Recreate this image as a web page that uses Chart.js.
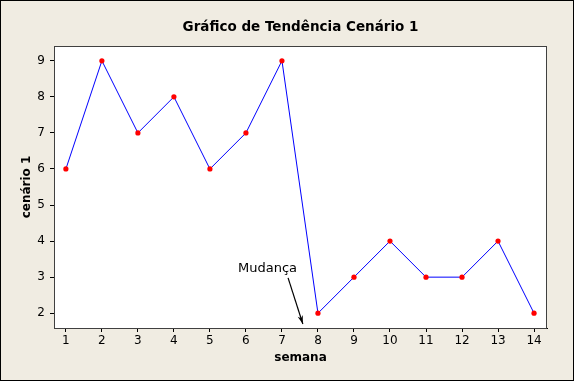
<!DOCTYPE html>
<html lang="pt">
<head>
    <meta charset="UTF-8">
    <title>Gráfico de Tendência Cenário 1</title>
    <script src="https://cdn.jsdelivr.net/npm/chart.js"></script>
    <style>
        body { margin: 0; background: #fff; }
        #wrap { width: 574px; height: 381px; }
    </style>
</head>
<body>
    <div id="wrap"><canvas id="trendChart" width="574" height="381"></canvas></div>

    <script>
        // data
        const semanas = [1, 2, 3, 4, 5, 6, 7, 8, 9, 10, 11, 12, 13, 14];
        const cenario1 = [6, 9, 7, 8, 6, 7, 9, 2, 3, 4, 3, 3, 4, 2];
        const yTicks = [2, 3, 4, 5, 6, 7, 8, 9];
        const titulo = 'Gráfico de Tendência Cenário 1';
        const nota = { texto: 'Mudança', x: 6.6, y: 3.25, de: [7.17, 2.98], ate: [7.58, 1.7] };

        const fonte = 'DejaVu Sans';

        // background, frame, title and annotation
        const extras = {
            id: 'extras',
            beforeDraw(chart) {
                const c = chart.ctx;
                c.save();
                c.fillStyle = '#f0ece2';
                c.fillRect(0, 0, chart.width, chart.height);
                const a = chart.chartArea;
                c.fillStyle = '#fff';
                c.fillRect(a.left, a.top, a.right - a.left, a.bottom - a.top);
                c.restore();
            },
            afterDraw(chart) {
                const c = chart.ctx;
                const a = chart.chartArea;
                const xs = chart.scales.x, ys = chart.scales.y;
                c.save();
                c.strokeStyle = '#000';
                c.lineWidth = 1;
                c.strokeRect(0.5, 0.5, chart.width - 1, chart.height - 1);
                c.strokeStyle = '#404040';
                c.strokeRect(a.left + 0.5, a.top + 0.5, a.right - a.left - 1, a.bottom - a.top);

                c.fillStyle = '#000';
                c.font = 'bold 13.5px "' + fonte + '"';
                c.textAlign = 'center';
                c.textBaseline = 'middle';
                c.fillText(titulo, (a.left + a.right) / 2, 27);

                // annotation
                c.font = '13px "' + fonte + '"';
                c.fillText(nota.texto, xs.getPixelForValue(nota.x), ys.getPixelForValue(nota.y));
                const x1 = xs.getPixelForValue(nota.de[0]), y1 = ys.getPixelForValue(nota.de[1]);
                const x2 = xs.getPixelForValue(nota.ate[0]), y2 = ys.getPixelForValue(nota.ate[1]);
                c.strokeStyle = '#000';
                c.lineWidth = 1.2;
                c.beginPath();
                c.moveTo(x1, y1);
                c.lineTo(x2, y2);
                c.stroke();
                const ang = Math.atan2(y2 - y1, x2 - x1);
                c.beginPath();
                c.moveTo(x2, y2);
                c.lineTo(x2 - 9 * Math.cos(ang - 0.3), y2 - 9 * Math.sin(ang - 0.3));
                c.lineTo(x2 - 6 * Math.cos(ang), y2 - 6 * Math.sin(ang));
                c.lineTo(x2 - 9 * Math.cos(ang + 0.3), y2 - 9 * Math.sin(ang + 0.3));
                c.closePath();
                c.fill();
                c.restore();
            }
        };

        const ctx = document.getElementById('trendChart').getContext('2d');
        const trendChart = new Chart(ctx, {
            type: 'line',
            data: {
                datasets: [{
                    data: semanas.map((s, i) => ({ x: s, y: cenario1[i] })),
                    borderColor: '#0000ff',
                    borderWidth: 1,
                    pointBackgroundColor: '#ff0000',
                    pointBorderWidth: 0,
                    pointRadius: 2.6,
                    tension: 0
                }]
            },
            options: {
                responsive: false,
                animation: false,
                layout: { padding: { left: 0, right: 27, top: 46, bottom: 0 } },
                plugins: { legend: { display: false }, tooltip: { enabled: false } },
                scales: {
                    x: {
                        type: 'linear',
                        min: 0.67,
                        max: 14.36,
                        afterBuildTicks: s => { s.ticks = semanas.map(v => ({ value: v })); },
                        afterFit: s => { s.height = 53; },
                        grid: { drawOnChartArea: false, tickLength: 4, tickColor: '#000' },
                        border: { color: '#000' },
                        ticks: { color: '#000', padding: 2, font: { family: fonte, size: 12 } },
                        title: { display: true, text: 'semana', color: '#000', padding: { top: 0, bottom: 16 },
                                 font: { family: fonte, size: 12, weight: 'bold' } }
                    },
                    y: {
                        min: 1.59,
                        max: 9.41,
                        afterBuildTicks: s => { s.ticks = yTicks.map(v => ({ value: v })); },
                        afterFit: s => { s.width = 54; },
                        grid: { drawOnChartArea: false, tickLength: 4, tickColor: '#000' },
                        border: { color: '#000' },
                        ticks: { color: '#000', padding: 5, font: { family: fonte, size: 12 } },
                        title: { display: true, text: 'cenário 1', color: '#000', padding: { top: 20, bottom: 0 },
                                 font: { family: fonte, size: 12, weight: 'bold' } }
                    }
                }
            },
            plugins: [extras]
        });
    </script>
</body>
</html>
